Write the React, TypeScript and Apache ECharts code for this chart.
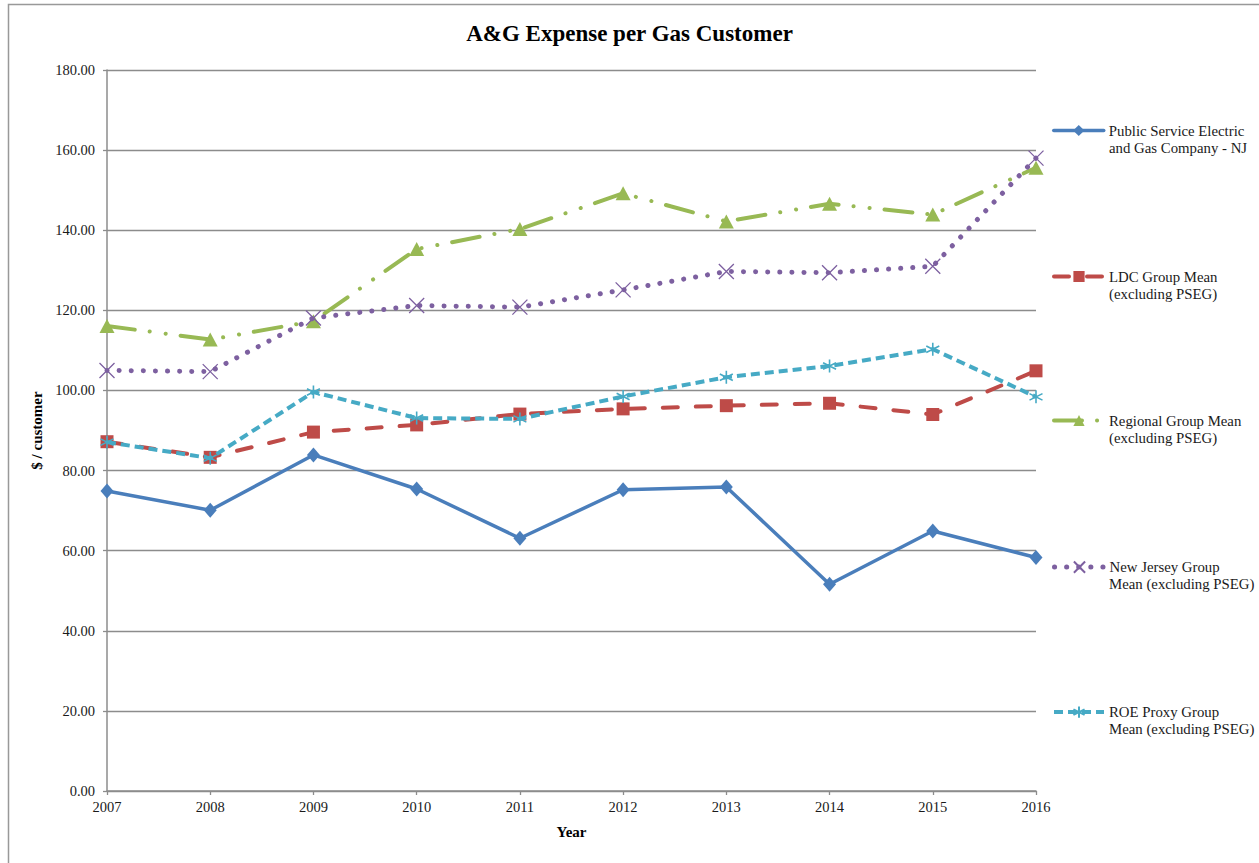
import React, { useEffect, useRef } from "react";
import * as echarts from "echarts";

const years = ["2007", "2008", "2009", "2010", "2011", "2012", "2013", "2014", "2015", "2016"];
const legendLine1 = [
  "Public Service Electric",
  "LDC Group Mean",
  "Regional Group Mean",
  "New Jersey Group",
  "ROE Proxy Group",
];
const legendLine2 = [
  "and Gas Company - NJ",
  "(excluding PSEG)",
  "(excluding PSEG)",
  "Mean (excluding PSEG)",
  "Mean (excluding PSEG)",
];
const pseg = [74.9, 70.1, 83.9, 75.4, 63.1, 75.2, 75.9, 51.6, 64.9, 58.3];
const ldc = [87.2, 83.3, 89.6, 91.4, 94.1, 95.4, 96.2, 96.8, 94.0, 104.9];
const regional = [116.1, 112.7, 117.3, 135.3, 140.3, 149.2, 142.2, 146.6, 143.9, 155.6];
const nj = [105.0, 104.7, 118.1, 121.2, 120.8, 125.1, 129.7, 129.4, 131.0, 158.0];
const roe = [87.1, 83.1, 99.6, 93.1, 92.9, 98.5, 103.3, 106.1, 110.3, 98.4];

const FONT = "'Liberation Serif', 'DejaVu Serif', serif";
const GRAY = "#8c8c8c";
const legendCenters = [130, 276, 420, 566, 711];

export default function App() {
  const ref = useRef<HTMLDivElement>(null);
  useEffect(() => {
    if (!ref.current) return;
    const chart = echarts.init(ref.current, null, { renderer: "svg" });
    const colors = ["#4A7EBB", "#BE4B48", "#98B954", "#7D60A0", "#46AAC5"];
    const X_PATH = "path://M0,0L10,10M10,0L0,10";
    const STAR_PATH = "path://M5,0L5,10M0.67,2.5L9.33,7.5M0.67,7.5L9.33,2.5";
    const datas = [pseg, ldc, regional, nj, roe];
    const names = legendLine1.map((a, i) => a + " " + legendLine2[i]);
    const styles: any[] = [
      { symbol: "diamond", symbolSize: [13, 15], line: { width: 3.5, type: "solid", cap: "round" }, item: {} },
      { symbol: "rect", symbolSize: 13, line: { width: 4, type: [15, 18], cap: "round" }, item: {} },
      { symbol: "triangle", symbolSize: [15, 14], line: { width: 4, type: [28, 15, 0.1, 16, 0.1, 15], cap: "round" }, item: {} },
      { symbol: X_PATH, symbolSize: 15, line: { width: 5, type: [0.1, 12], cap: "round" }, item: { color: "none", borderColor: colors[3], borderWidth: 1.3 } },
      { symbol: STAR_PATH, symbolSize: 13, line: { width: 4, type: [9, 5], cap: "butt" }, item: { color: "none", borderColor: colors[4], borderWidth: 1.6 } },
    ];
    const series = datas.map((d, i) => ({
      name: names[i],
      type: "line",
      data: d,
      symbol: styles[i].symbol,
      symbolSize: styles[i].symbolSize,
      showAllSymbol: true,
      lineStyle: { color: colors[i], ...styles[i].line },
      itemStyle: { color: colors[i], ...styles[i].item },
      z: 2 + i,
    }));
    const legends = names.map((n, i) => ({
      data: [n],
      left: 1047,
      top: legendCenters[i] - 7 - 5,
      orient: "vertical",
      itemWidth: 50,
      itemHeight: 14,
      selectedMode: false,
      formatter: () => legendLine1[i],
      lineStyle: { width: styles[i].line.width, type: "inherit", cap: styles[i].line.cap, color: colors[i] },
      textStyle: { fontFamily: FONT, fontSize: 14.8, color: "#1a1a1a" },
    }));
    const secondLines = legendLine2.map((t, i) => ({
      type: "text",
      x: 1109,
      y: legendCenters[i] + 18,
      silent: true,
      style: {
        text: t,
        fontFamily: FONT,
        fontSize: 14.8,
        fill: "#1a1a1a",
        align: "left",
        verticalAlign: "middle",
      },
    }));
    chart.setOption({
      animation: false,
      backgroundColor: "#fff",
      title: {
        text: "A&G Expense per Gas Customer",
        left: "center",
        top: 17,
        textStyle: { fontFamily: FONT, fontSize: 23, fontWeight: "bold", color: "#000" },
      },
      legend: legends,
      grid: { left: 107, right: 223, top: 70, bottom: 72 },
      xAxis: {
        type: "category",
        data: years,
        boundaryGap: false,
        name: "Year",
        nameLocation: "middle",
        nameGap: 33,
        nameTextStyle: { fontFamily: FONT, fontSize: 15, fontWeight: "bold", color: "#000" },
        axisLine: { lineStyle: { color: GRAY, width: 1.5 } },
        axisTick: { show: true, length: 4, alignWithLabel: true, lineStyle: { color: GRAY, width: 1.3 } },
        axisLabel: { fontFamily: FONT, fontSize: 14.5, color: "#1a1a1a", margin: 8 },
        splitLine: { show: false },
      },
      yAxis: {
        type: "value",
        min: 0,
        max: 180,
        interval: 20,
        name: "$ / customer",
        nameLocation: "middle",
        nameGap: 55,
        nameTextStyle: { fontFamily: FONT, fontSize: 15, fontWeight: "bold", color: "#000" },
        axisLine: { show: true, lineStyle: { color: GRAY, width: 1.5 } },
        axisTick: { show: true, length: 4, lineStyle: { color: GRAY, width: 1.3 } },
        axisLabel: { fontFamily: FONT, fontSize: 14.5, color: "#1a1a1a", margin: 12, formatter: (v: number) => v.toFixed(2) },
        splitLine: { show: true, lineStyle: { color: GRAY, width: 1.3 } },
      },
      graphic: [
        {
          type: "rect",
          shape: { x: 8.5, y: 4.5, width: 1400, height: 1000 },
          style: { fill: "none", stroke: "#999", lineWidth: 1.5 },
          silent: true,
          z: -1,
        },
        ...secondLines,
      ],
      series,
    });
    return () => chart.dispose();
  }, []);
  return <div ref={ref} style={{ position: "absolute", left: 0, top: 0, width: 1259, height: 863 }} />;
}
